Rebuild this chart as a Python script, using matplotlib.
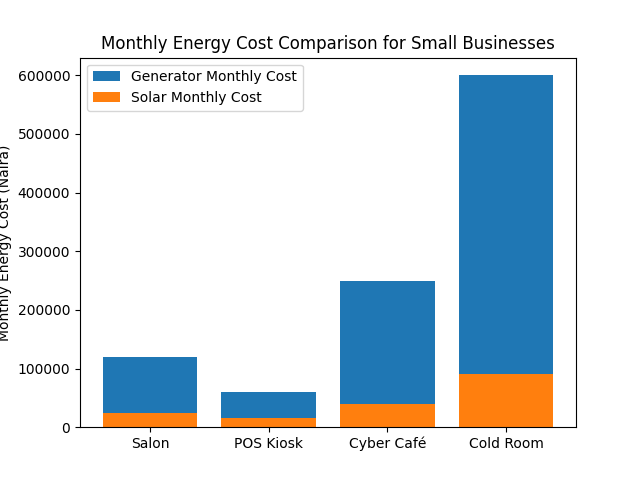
import matplotlib
matplotlib.use('Agg')
import matplotlib.pyplot as plt

businesses = ['Salon', 'POS Kiosk', 'Cyber Café', 'Cold Room']
generator_cost = [120000, 60000, 250000, 600000]
solar_cost = [25000, 15000, 40000, 90000]

fig, ax = plt.subplots(figsize=(6.4, 4.8), dpi=100)
ax.bar(businesses, generator_cost, label='Generator Monthly Cost')
ax.bar(businesses, solar_cost, label='Solar Monthly Cost')
ax.set_title('Monthly Energy Cost Comparison for Small Businesses')
ax.set_ylabel('Monthly Energy Cost (Naira)')
ax.legend()
fig.savefig('out.png')
